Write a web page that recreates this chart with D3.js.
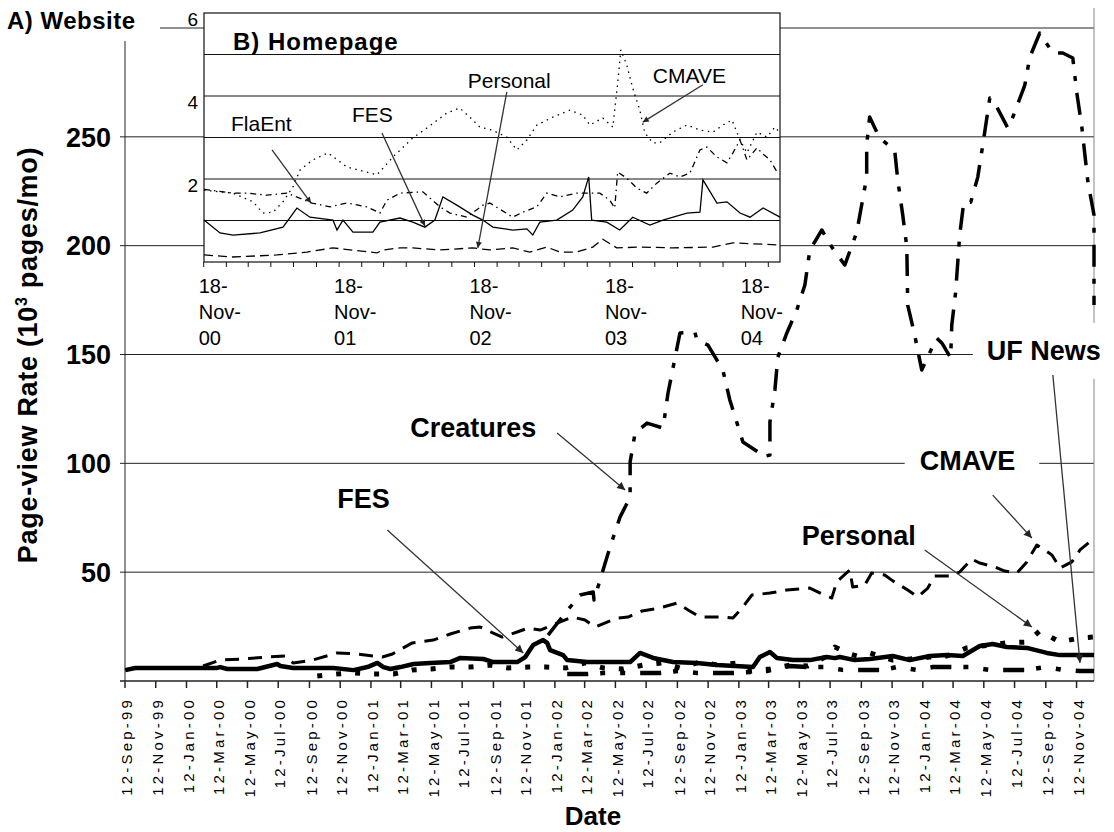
<!DOCTYPE html>
<html><head><meta charset="utf-8">
<script src="https://cdn.jsdelivr.net/npm/d3@7"></script>
<style>body{margin:0;background:#fff}svg{display:block}text{font-family:"Liberation Sans",Arial,sans-serif;fill:#000}</style>
</head><body><svg id="c" width="1114" height="832"></svg>
<script>
// ---------- DATA (decimal year, value) ----------
const creaturesData = [[2001.993,21.1],[2002.086,31.2],[2002.167,39.5],[2002.238,40.9],[2002.243,37.2],[2002.287,49.6],[2002.330,61.6],[2002.384,75.3],[2002.439,84.5],[2002.439,100.6],[2002.466,113.9],[2002.531,118.5],[2002.618,116.2],[2002.645,132.3],[2002.710,159.9],[2002.791,160.3],[2002.802,156.6],[2002.862,154.3],[2002.943,142.9],[2002.981,129.1],[2003.052,109.8],[2003.134,105.2],[2003.155,102.9],[2003.199,103.8],[2003.199,119.0],[2003.226,133.7],[2003.242,148.8],[2003.291,159.9],[2003.345,170.4],[2003.389,181.9],[2003.416,198.0],[2003.481,207.2],[2003.535,199.4],[2003.606,191.1],[2003.671,206.2],[2003.725,231.5],[2003.725,246.2],[2003.741,259.1],[2003.796,249.4],[2003.877,243.9],[2003.894,230.1],[2003.921,214.1],[2003.943,199.4],[2003.948,172.7],[2003.986,158.9],[2004.024,142.9],[2004.105,157.6],[2004.133,155.3],[2004.181,148.4],[2004.187,163.5],[2004.208,178.7],[2004.230,204.9],[2004.252,220.0],[2004.290,220.0],[2004.328,231.5],[2004.355,246.2],[2004.393,267.8],[2004.420,265.5],[2004.491,254.0],[2004.518,259.1],[2004.583,273.8],[2004.610,286.6],[2004.664,297.7],[2004.735,288.5],[2004.789,288.5],[2004.843,286.2],[2004.865,270.1],[2004.892,254.5],[2004.925,229.2],[2004.958,214.1],[2004.958,172.7]];
const cmaveData = [[2000.120,6.9],[2000.213,9.6],[2000.332,10.1],[2000.468,11.0],[2000.566,11.5],[2000.593,9.2],[2000.609,8.3],[2000.712,9.6],[2000.848,12.9],[2000.957,12.4],[2001.092,11.0],[2001.147,12.4],[2001.206,15.2],[2001.255,17.5],[2001.369,18.8],[2001.461,21.6],[2001.570,24.3],[2001.624,24.8],[2001.695,22.0],[2001.744,20.2],[2001.825,22.5],[2001.885,24.3],[2001.950,23.4],[2002.124,29.4],[2002.194,28.0],[2002.249,24.8],[2002.314,27.1],[2002.368,28.9],[2002.428,29.4],[2002.504,32.2],[2002.574,33.1],[2002.618,34.0],[2002.694,35.8],[2002.754,32.6],[2002.819,29.4],[2002.944,29.4],[2002.998,28.9],[2003.047,33.5],[2003.101,39.5],[2003.199,40.4],[2003.291,41.8],[2003.416,42.7],[2003.481,40.0],[2003.535,38.1],[2003.562,45.5],[2003.633,51.0],[2003.649,43.2],[2003.714,44.0],[2003.752,49.6],[2003.823,48.7],[2003.867,46.0],[2003.948,41.8],[2004.002,38.6],[2004.057,42.7],[2004.094,48.2],[2004.176,48.2],[2004.230,50.1],[2004.295,56.0],[2004.339,54.2],[2004.420,52.4],[2004.474,50.5],[2004.540,49.6],[2004.594,54.7],[2004.648,62.5],[2004.730,57.9],[2004.773,51.9],[2004.838,54.7],[2004.882,60.2],[2004.947,64.8]];
const fesData = [[1999.697,5.0],[1999.751,6.0],[2000.196,6.0],[2000.213,6.4],[2000.251,5.5],[2000.414,5.5],[2000.522,7.8],[2000.539,6.9],[2000.609,6.0],[2000.826,6.0],[2000.935,5.0],[2001.011,6.4],[2001.065,8.3],[2001.098,6.4],[2001.136,5.5],[2001.190,6.4],[2001.261,7.8],[2001.353,8.3],[2001.461,8.7],[2001.516,10.6],[2001.641,10.1],[2001.695,8.7],[2001.825,8.7],[2001.869,11.0],[2001.912,16.5],[2001.966,18.8],[2001.988,17.5],[2002.004,14.2],[2002.075,11.9],[2002.097,9.6],[2002.205,8.7],[2002.439,8.7],[2002.493,12.9],[2002.564,10.6],[2002.672,8.7],[2002.802,8.3],[2002.911,7.3],[2003.107,6.4],[2003.144,11.0],[2003.199,13.3],[2003.237,10.6],[2003.324,9.6],[2003.416,9.6],[2003.508,11.0],[2003.552,10.5],[2003.579,11.0],[2003.660,9.6],[2003.742,10.1],[2003.867,11.5],[2003.959,9.6],[2004.067,11.5],[2004.160,11.9],[2004.247,11.5],[2004.339,16.1],[2004.409,17.0],[2004.485,15.6],[2004.594,15.2],[2004.702,12.9],[2004.773,11.9],[2004.882,11.9],[2004.958,11.9]];
const personalData = [[2000.739,2.3],[2000.843,3.2],[2000.940,3.7],[2001.043,3.2],[2001.152,3.2],[2001.255,5.1],[2001.358,5.5],[2001.461,6.4],[2001.570,6.4],[2001.679,7.3],[2001.776,6.0],[2001.885,6.4],[2001.983,6.4],[2002.091,6.0],[2002.194,8.3],[2002.292,6.0],[2002.401,5.5],[2002.509,7.3],[2002.612,8.3],[2002.710,6.0],[2002.819,8.7],[2002.916,7.3],[2003.020,8.3],[2003.090,4.5],[2003.199,5.5],[2003.307,7.3],[2003.405,6.9],[2003.524,12.0],[2003.552,15.6],[2003.633,12.4],[2003.671,11.5],[2003.742,12.9],[2003.867,9.6],[2003.959,10.1],[2004.067,11.0],[2004.160,11.5],[2004.268,15.2],[2004.393,16.5],[2004.485,17.5],[2004.594,17.9],[2004.664,23.0],[2004.773,17.9],[2004.882,19.8],[2004.958,20.2]];
const ufNewsData = [[2002.097,3.2],[2002.205,3.2],[2002.292,3.7],[2002.401,3.7],[2002.493,3.7],[2002.602,3.7],[2002.699,4.6],[2002.802,3.7],[2002.889,3.7],[2002.998,3.7],[2003.090,4.1],[2003.182,4.6],[2003.307,6.9],[2003.405,6.4],[2003.497,6.4],[2003.595,5.1],[2003.687,5.1],[2003.812,5.1],[2003.888,6.4],[2003.997,5.1],[2004.084,6.4],[2004.192,6.4],[2004.285,6.4],[2004.393,5.1],[2004.502,5.1],[2004.599,5.1],[2004.692,6.4],[2004.789,5.1],[2004.882,4.6],[2004.958,4.6]];

// Inset (homepage) series
const homeCmave = [[2000.882,1.73],[2001.096,1.66],[2001.244,1.45],[2001.317,1.18],[2001.391,1.20],[2001.465,1.45],[2001.539,1.81],[2001.591,2.22],[2001.686,2.46],[2001.797,2.63],[2001.937,2.29],[2002.159,2.10],[2002.277,2.53],[2002.424,2.99],[2002.528,3.23],[2002.675,3.59],[2002.771,3.71],[2002.845,3.49],[2002.919,3.25],[2003.008,3.18],[2003.118,3.01],[2003.192,2.70],[2003.266,2.94],[2003.340,3.30],[2003.458,3.49],[2003.583,3.66],[2003.679,3.54],[2003.731,3.30],[2003.827,3.47],[2003.901,3.25],[2003.937,4.31],[2003.960,5.11],[2004.004,4.75],[2004.048,4.19],[2004.100,3.66],[2004.137,3.11],[2004.196,2.87],[2004.247,2.87],[2004.343,3.13],[2004.447,3.30],[2004.543,3.18],[2004.639,3.13],[2004.712,3.30],[2004.779,3.42],[2004.838,2.94],[2004.889,2.63],[2004.963,3.13],[2005.037,3.01],[2005.096,3.25],[2005.133,3.11]];
const homeFlaEnt = [[2000.882,1.75],[2001.096,1.66],[2001.199,1.66],[2001.347,1.61],[2001.495,1.66],[2001.679,1.42],[2001.812,1.33],[2001.937,1.42],[2002.085,1.33],[2002.181,1.18],[2002.233,1.49],[2002.329,1.66],[2002.498,1.69],[2002.624,1.33],[2002.698,1.18],[2002.823,1.08],[2002.941,1.37],[2002.993,1.42],[2003.162,1.08],[2003.236,1.20],[2003.340,1.33],[2003.413,1.66],[2003.509,1.57],[2003.635,1.66],[2003.805,1.66],[2003.878,1.49],[2003.915,1.30],[2003.937,2.17],[2004.004,2.02],[2004.078,1.78],[2004.151,1.66],[2004.225,1.90],[2004.321,2.14],[2004.395,2.05],[2004.469,2.14],[2004.543,2.70],[2004.594,2.77],[2004.668,2.53],[2004.742,2.39],[2004.786,2.63],[2004.838,2.94],[2004.889,2.46],[2004.963,2.75],[2005.008,2.60],[2005.059,2.46],[2005.111,2.17]];
const homeFes = [[2000.882,1.01],[2001.000,0.70],[2001.096,0.65],[2001.295,0.70],[2001.465,0.84],[2001.568,1.30],[2001.664,1.08],[2001.834,1.01],[2001.864,0.77],[2001.908,1.01],[2001.982,0.72],[2002.129,0.72],[2002.181,0.96],[2002.329,1.06],[2002.424,0.96],[2002.513,0.84],[2002.587,1.01],[2002.646,1.57],[2002.749,1.37],[2002.867,1.13],[2002.941,1.01],[2003.015,0.84],[2003.162,0.77],[2003.266,0.80],[2003.310,0.65],[2003.362,0.96],[2003.487,1.01],[2003.605,1.25],[2003.679,1.57],[2003.723,2.05],[2003.745,1.01],[2003.856,0.96],[2003.952,0.77],[2004.048,1.08],[2004.174,0.89],[2004.270,1.01],[2004.447,1.18],[2004.543,1.20],[2004.565,1.98],[2004.668,1.42],[2004.742,1.45],[2004.838,1.18],[2004.912,1.08],[2005.008,1.30],[2005.133,1.08]];
const homePersonal = [[2000.882,0.17],[2001.096,0.12],[2001.421,0.17],[2001.642,0.24],[2001.834,0.34],[2002.159,0.22],[2002.203,0.29],[2002.329,0.34],[2002.424,0.34],[2002.624,0.29],[2002.867,0.34],[2002.993,0.29],[2003.162,0.34],[2003.288,0.24],[2003.413,0.36],[2003.509,0.24],[2003.635,0.24],[2003.753,0.36],[2003.827,0.55],[2003.930,0.34],[2004.100,0.36],[2004.343,0.34],[2004.639,0.36],[2004.786,0.46],[2005.133,0.41]];

const mainYTicks = [50,100,150,200,250,300];
const mainYLabels = [50,100,150,200,250];
const homeYTicks = [1,2,3,4,5];
const homeYLabels = [2,4,6];

// ---------- helpers ----------
const decYear = v => { const yr=Math.floor(v); const s=new Date(yr,0,1), e=new Date(yr+1,0,1); return new Date(+s + (v-yr)*(e-s)); };
const svg = d3.select("#c");
const L=125, R=1094, B=681, T=28;
const x = d3.scaleTime().domain([new Date(1999,8,12), decYear(2004.958)]).range([L,R]);
const y = d3.scaleLinear().domain([0,300]).range([B,T]);

const defs = svg.append("defs");
function marker(id,w,h){
  defs.append("marker").attr("id",id).attr("viewBox","0 0 10 10").attr("refX",10).attr("refY",5)
    .attr("markerWidth",w).attr("markerHeight",h).attr("markerUnits","userSpaceOnUse").attr("orient","auto")
    .append("path").attr("d","M0,0L10,5L0,10z").attr("fill","#222");
}
marker("ah",10,8); marker("ahs",8,6);

// ---------- main grid & axes ----------
const g = svg.append("g");
g.selectAll(".grid").data(mainYTicks).join("line")
  .attr("x1",L-5).attr("x2",R).attr("y1",d=>y(d)).attr("y2",d=>y(d)).attr("stroke","#222").attr("stroke-width",1);
g.append("line").attr("x1",L).attr("x2",L).attr("y1",B).attr("y2",8).attr("stroke","#222");
g.append("line").attr("x1",R).attr("x2",R).attr("y1",B).attr("y2",8).attr("stroke","#888");
g.append("line").attr("x1",L-5).attr("x2",R).attr("y1",B).attr("y2",B).attr("stroke","#222").attr("stroke-width",1.5);
const xTicks = d3.range(32).map(i=>new Date(1999,8+2*i,12));
g.selectAll(".xt").data(xTicks).join("line")
  .attr("x1",d=>x(d)).attr("x2",d=>x(d)).attr("y1",B).attr("y2",B+7).attr("stroke","#222").attr("stroke-width",1.5);
const fmt = d3.timeFormat("%d-%b-%y");
g.selectAll(".xl").data(xTicks).join("text")
  .attr("transform",d=>`translate(${x(d)+2},697) rotate(-90)`)
  .attr("text-anchor","end").attr("dy","0.35em")
  .style("font-size","15px").style("letter-spacing","3.2px").text(d=>fmt(d));
g.selectAll(".yl").data(mainYLabels).join("text")
  .attr("x",111).attr("y",d=>y(d)).attr("dy","0.36em").attr("text-anchor","end")
  .style("font-size","27px").style("font-weight","bold").text(d=>d);

// ---------- main series ----------
const line = d3.line().x(d=>x(decYear(d[0]))).y(d=>y(d[1]));
const series = [
  {d:fesData, w:4.5, dash:null},
  {d:personalData, w:5, dash:"5,14"},
  {d:ufNewsData, w:4.5, dash:"21,12,5,15,5,15"},
  {d:cmaveData, w:3, dash:"14,9"},
  {d:creaturesData, w:3.5, dash:"22,12,5,12"}
];
series.forEach(s=>{
  g.append("path").attr("d",line(s.d)).attr("fill","none").attr("stroke","#000")
    .attr("stroke-width",s.w).attr("stroke-dasharray",s.dash).attr("stroke-linejoin","round");
});

// ---------- titles ----------
svg.append("rect").attr("x",0).attr("y",0).attr("width",160).attr("height",41).attr("fill","#fff");
svg.append("text").attr("x",7).attr("y",29).style("font-size","24px").style("font-weight","bold").style("letter-spacing","0.5px").text("A) Website");
const yt = svg.append("text").attr("transform","translate(37,355) rotate(-90)").attr("text-anchor","middle")
  .style("font-size","27px").style("font-weight","bold").style("letter-spacing","0.7px");
yt.append("tspan").text("Page-view Rate (10");
yt.append("tspan").attr("dy",-10).style("font-size","16px").text("3");
yt.append("tspan").attr("dy",10).text(" pages/mo)");
svg.append("text").attr("x",593).attr("y",825).attr("text-anchor","middle").style("font-size","26px").style("font-weight","bold").text("Date");

// ---------- main annotations ----------
const mainNotes = [
  {t:"FES", at:[2000.848,79.5], from:[2001.119,69.4], to:[2001.858,12.9]},
  {t:"Creatures", at:[2001.244,112.1], from:[2002.042,113.9], to:[2002.412,87.7]},
  {t:"CMAVE", at:[2004.013,96.9], from:[2004.409,85.4], to:[2004.621,65.7], pad:[15,24,6]},
  {t:"Personal", at:[2003.372,62.5], from:[2004.040,60.2], to:[2004.621,24.8]},
  {t:"UF News", at:[2004.377,147.5], from:[2004.735,140.6], to:[2004.882,8.3], pad:[14,20,13]}
];
const ng = svg.append("g");
mainNotes.forEach(n=>{
  const bgSlot = ng.append("g");
  const tx = ng.append("text").attr("x",x(decYear(n.at[0]))).attr("y",y(n.at[1]))
    .style("font-size","27px").style("font-weight","bold").text(n.t);
  if(n.pad){
    const b = tx.node().getBBox();
    bgSlot.append("rect").attr("x",b.x-n.pad[0]).attr("y",b.y-n.pad[2]).attr("width",b.width+n.pad[0]+n.pad[1]).attr("height",b.height+2*n.pad[2]).attr("fill","#fff");
  }
  ng.append("line").attr("x1",x(decYear(n.from[0]))).attr("y1",y(n.from[1]))
    .attr("x2",x(decYear(n.to[0]))).attr("y2",y(n.to[1])).attr("stroke","#333").attr("stroke-width",1.3).attr("marker-end","url(#ah)");
});

// ---------- inset ----------
const IL=204, IR=780, IT=13, IB=262;
const xi = d3.scaleTime().domain([decYear(2000.882), decYear(2005.133)]).range([IL,IR]);
const yi = d3.scaleLinear().domain([0,6]).range([IB,IT]);
const gi = svg.append("g");
gi.append("rect").attr("x",IL).attr("y",IT).attr("width",IR-IL).attr("height",IB-IT).attr("fill","#fff");
gi.selectAll(".ig").data(homeYTicks).join("line").attr("x1",IL).attr("x2",IR)
  .attr("y1",d=>yi(d)).attr("y2",d=>yi(d)).attr("stroke","#111");
gi.append("rect").attr("x",IL).attr("y",IT).attr("width",IR-IL).attr("height",IB-IT).attr("fill","none").attr("stroke","#111").attr("stroke-width",1.2);
const iTicks = d3.range(26).map(k=>new Date(2000,10+2*k,18)).filter(d=>xi(d)<=IR);
gi.selectAll(".it").data(iTicks).join("line").attr("x1",d=>xi(d)).attr("x2",d=>xi(d)).attr("y1",IB).attr("y2",IB+5).attr("stroke","#111");
const iLab = d3.range(5).map(k=>new Date(2000+k,10,18));
const f1=d3.timeFormat("%d-"), f2=d3.timeFormat("%b-"), f3=d3.timeFormat("%y");
iLab.forEach(d=>{
  const t = gi.append("text").style("font-size","20px");
  t.append("tspan").attr("x",xi(d)-5).attr("y",293).text(f1(d));
  t.append("tspan").attr("x",xi(d)-5).attr("y",319).text(f2(d));
  t.append("tspan").attr("x",xi(d)-5).attr("y",345).text(f3(d));
});
gi.selectAll(".iyl").data(homeYLabels).join("text").attr("x",198).attr("y",d=>yi(d)+6).attr("dy","0.35em")
  .attr("text-anchor","end").style("font-size","19px").text(d=>d);
const iline = d3.line().x(d=>xi(decYear(d[0]))).y(d=>yi(d[1]));
[
  {d:homePersonal, dash:"9,5"},
  {d:homeFes, dash:null},
  {d:homeFlaEnt, dash:"6,4,1.5,4"},
  {d:homeCmave, dash:"1.5,4.5"}
].forEach(s=>{
  gi.append("path").attr("d",iline(s.d)).attr("fill","none").attr("stroke","#000").attr("stroke-width",1.3).attr("stroke-dasharray",s.dash);
});
gi.append("text").attr("x",xi(decYear(2001.096))).attr("y",yi(5.11)).style("font-size","24px").style("font-weight","bold").style("letter-spacing","1px").text("B) Homepage");
const homeNotes = [
  {t:"FlaEnt", at:[2001.081,3.16], from:[2001.384,2.70], to:[2001.672,1.42]},
  {t:"FES", at:[2001.974,3.37], from:[2002.196,3.11], to:[2002.513,0.87]},
  {t:"Personal", at:[2002.830,4.19], from:[2003.118,4.10], to:[2002.904,0.34]},
  {t:"CMAVE", at:[2004.196,4.31], from:[2004.565,4.27], to:[2004.122,3.37]}
];
homeNotes.forEach(n=>{
  gi.append("text").attr("x",xi(decYear(n.at[0]))).attr("y",yi(n.at[1])).style("font-size","21px").text(n.t);
  gi.append("line").attr("x1",xi(decYear(n.from[0]))).attr("y1",yi(n.from[1]))
    .attr("x2",xi(decYear(n.to[0]))).attr("y2",yi(n.to[1])).attr("stroke","#333").attr("stroke-width",1.3).attr("marker-end","url(#ahs)");
});
</script></body></html>
